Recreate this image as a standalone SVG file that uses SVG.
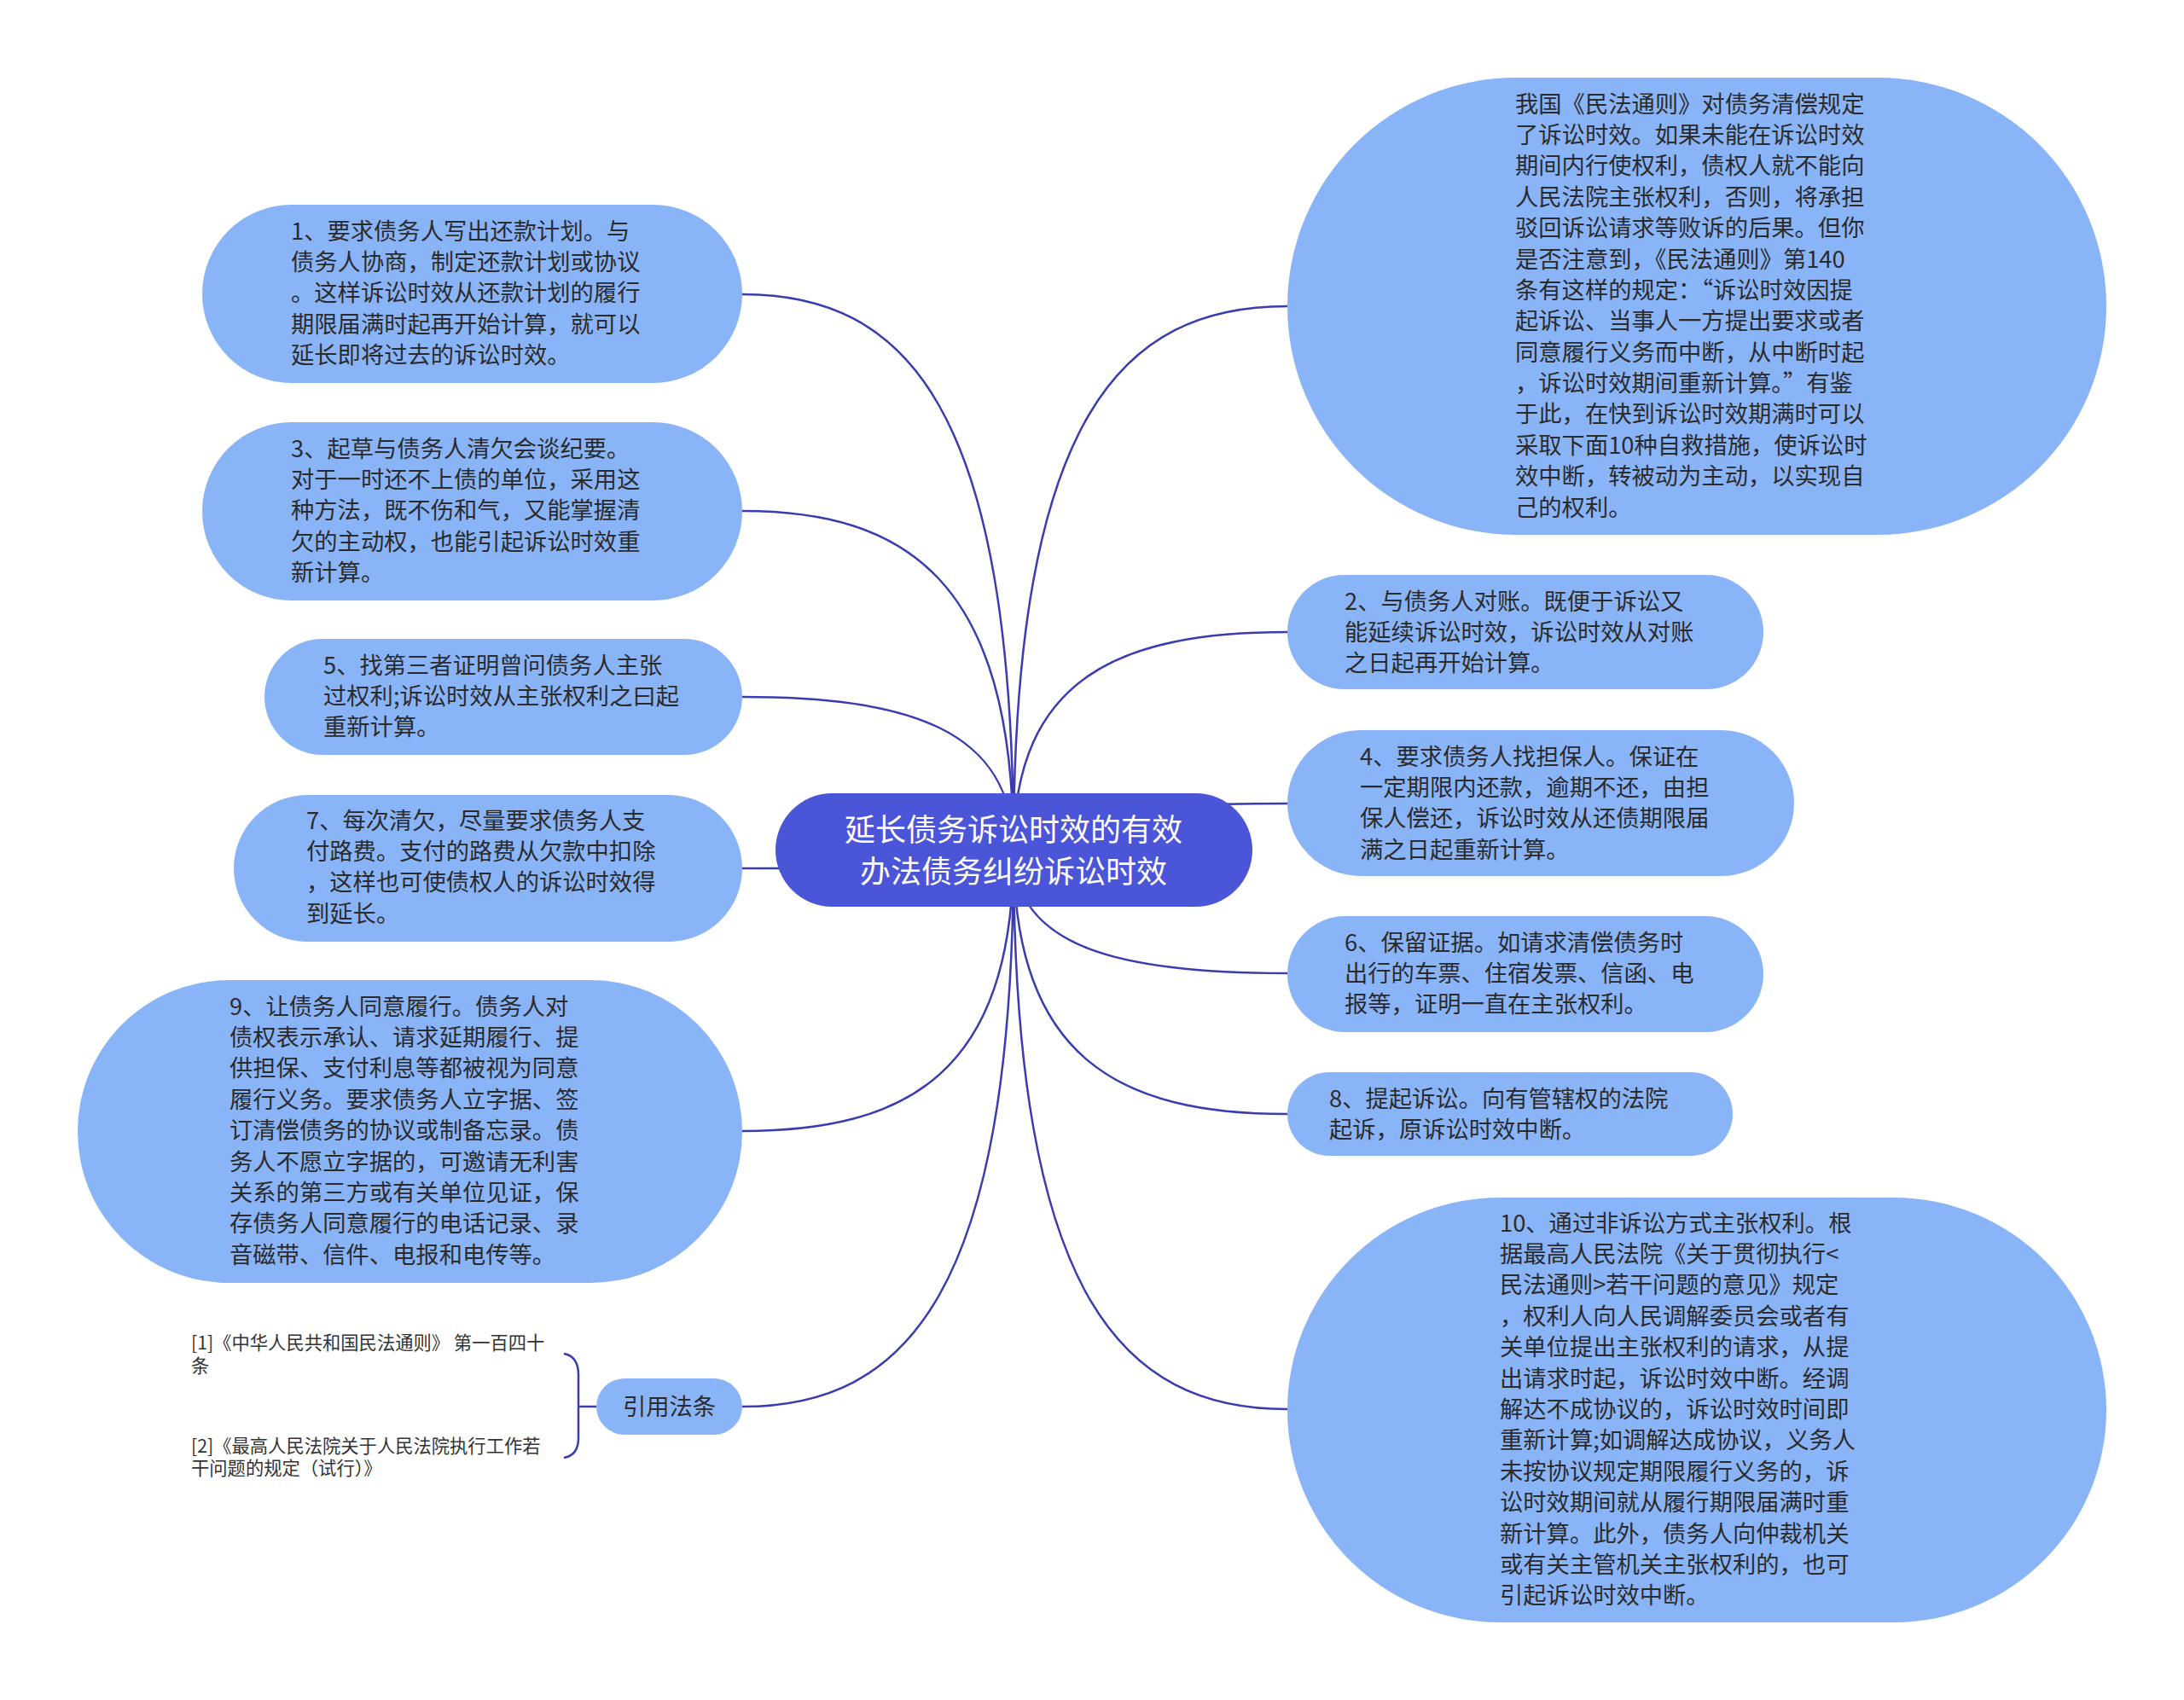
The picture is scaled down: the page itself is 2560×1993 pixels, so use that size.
<svg xmlns="http://www.w3.org/2000/svg" width="2560" height="1993" viewBox="0 0 2560 1993">
<style>
.bg{fill:#ffffff}
.n{fill:#8ab4f8}
.c{fill:#4b55d8}
.t{font-family:"Noto Sans CJK SC","Liberation Sans",sans-serif;font-size:27.3px;fill:#2b2b2b}
.ct{font-family:"Noto Sans CJK SC","Liberation Sans",sans-serif;font-size:36px;fill:#ffffff;text-anchor:middle}
.r{font-family:"Noto Sans CJK SC","Liberation Sans",sans-serif;font-size:21.3px;fill:#333333}
.l{fill:none;stroke:#3a3cb0;stroke-width:2.5}
</style>
<rect class="bg" x="0" y="0" width="2560" height="1993"/>
<g id="connectors">
<path class="l" d="M1188,997 C1188,475 1061,345 870,345"/>
<path class="l" d="M1188,997 C1188,679 1061,599 870,599"/>
<path class="l" d="M1188,997 C1188,853 1061,817 870,817"/>
<path class="l" d="M1188,997 C1188,1014 1061,1018 870,1018"/>
<path class="l" d="M1188,997 C1188,1260 1061,1326 870,1326"/>
<path class="l" d="M1188,997 C1188,1519 1061,1649 870,1649"/>
<path class="l" d="M1188,997 C1188,487 1316,359 1509,359"/>
<path class="l" d="M1188,997 C1188,792 1316,741 1509,741"/>
<path class="l" d="M1188,997 C1188,953 1316,942 1509,942"/>
<path class="l" d="M1188,997 C1188,1112 1316,1141 1509,1141"/>
<path class="l" d="M1188,997 C1188,1244 1316,1306 1509,1306"/>
<path class="l" d="M1188,997 C1188,1521 1316,1652 1509,1652"/>
<path class="l" d="M661,1587 Q678,1590 678,1612 L678,1686 Q678,1706 661,1709 M678,1649 L699,1649"/>
</g>
<g id="center">
<rect class="c" x="909" y="930" width="559" height="133" rx="66.5"/>
<text class="ct" x="1188" y="986">延长债务诉讼时效的有效</text>
<text class="ct" x="1188" y="1035">办法债务纠纷诉讼时效</text>
</g>
<g id="node1">
<rect class="n" x="237" y="240" width="633" height="209" rx="104.5"/>
<text class="t" x="341" y="280.5"><tspan x="341">1、要求债务人写出还款计划。与</tspan><tspan x="341" dy="36.4">债务人协商，制定还款计划或协议</tspan><tspan x="341" dy="36.4">。这样诉讼时效从还款计划的履行</tspan><tspan x="341" dy="36.4">期限届满时起再开始计算，就可以</tspan><tspan x="341" dy="36.4">延长即将过去的诉讼时效。</tspan></text>
</g>
<g id="node3">
<rect class="n" x="237" y="495" width="633" height="209" rx="104.5"/>
<text class="t" x="341" y="535.5"><tspan x="341">3、起草与债务人清欠会谈纪要。</tspan><tspan x="341" dy="36.4">对于一时还不上债的单位，采用这</tspan><tspan x="341" dy="36.4">种方法，既不伤和气，又能掌握清</tspan><tspan x="341" dy="36.4">欠的主动权，也能引起诉讼时效重</tspan><tspan x="341" dy="36.4">新计算。</tspan></text>
</g>
<g id="node5">
<rect class="n" x="310" y="749" width="560" height="136" rx="68"/>
<text class="t" x="379" y="789.5"><tspan x="379">5、找第三者证明曾问债务人主张</tspan><tspan x="379" dy="36.4">过权利;诉讼时效从主张权利之曰起</tspan><tspan x="379" dy="36.4">重新计算。</tspan></text>
</g>
<g id="node7">
<rect class="n" x="274" y="932" width="596" height="172" rx="86"/>
<text class="t" x="359" y="971.5"><tspan x="359">7、每次清欠，尽量要求债务人支</tspan><tspan x="359" dy="36.4">付路费。支付的路费从欠款中扣除</tspan><tspan x="359" dy="36.4">，这样也可使债权人的诉讼时效得</tspan><tspan x="359" dy="36.4">到延长。</tspan></text>
</g>
<g id="node9">
<rect class="n" x="91" y="1149" width="779" height="355" rx="177.5"/>
<text class="t" x="269" y="1189.5"><tspan x="269">9、让债务人同意履行。债务人对</tspan><tspan x="269" dy="36.4">债权表示承认、请求延期履行、提</tspan><tspan x="269" dy="36.4">供担保、支付利息等都被视为同意</tspan><tspan x="269" dy="36.4">履行义务。要求债务人立字据、签</tspan><tspan x="269" dy="36.4">订清偿债务的协议或制备忘录。债</tspan><tspan x="269" dy="36.4">务人不愿立字据的，可邀请无利害</tspan><tspan x="269" dy="36.4">关系的第三方或有关单位见证，保</tspan><tspan x="269" dy="36.4">存债务人同意履行的电话记录、录</tspan><tspan x="269" dy="36.4">音磁带、信件、电报和电传等。</tspan></text>
</g>
<g id="cite">
<rect class="n" x="699" y="1616" width="171" height="66" rx="33"/>
<text class="t" x="784.5" y="1658.5" text-anchor="middle">引用法条</text>
</g>
<g id="ref1">
<text class="r" x="224" y="1582"><tspan x="224">[1]《中华人民共和国民法通则》 第一百四十</tspan><tspan x="224" dy="27">条</tspan></text>
</g>
<g id="ref2">
<text class="r" x="224" y="1703"><tspan x="224">[2]《最高人民法院关于人民法院执行工作若</tspan><tspan x="224" dy="26">干问题的规定（试行）》</tspan></text>
</g>
<g id="nodeTop">
<rect class="n" x="1509" y="91" width="960" height="536" rx="268"/>
<text class="t" x="1776" y="131.5"><tspan x="1776">我国《民法通则》对债务清偿规定</tspan><tspan x="1776" dy="36.4">了诉讼时效。如果未能在诉讼时效</tspan><tspan x="1776" dy="36.4">期间内行使权利，债权人就不能向</tspan><tspan x="1776" dy="36.4">人民法院主张权利，否则，将承担</tspan><tspan x="1776" dy="36.4">驳回诉讼请求等败诉的后果。但你</tspan><tspan x="1776" dy="36.4">是否注意到，《民法通则》第140</tspan><tspan x="1776" dy="36.4">条有这样的规定：“诉讼时效因提</tspan><tspan x="1776" dy="36.4">起诉讼、当事人一方提出要求或者</tspan><tspan x="1776" dy="36.4">同意履行义务而中断，从中断时起</tspan><tspan x="1776" dy="36.4">，诉讼时效期间重新计算。”有鉴</tspan><tspan x="1776" dy="36.4">于此，在快到诉讼时效期满时可以</tspan><tspan x="1776" dy="36.4">采取下面10种自救措施，使诉讼时</tspan><tspan x="1776" dy="36.4">效中断，转被动为主动，以实现自</tspan><tspan x="1776" dy="36.4">己的权利。</tspan></text>
</g>
<g id="node2">
<rect class="n" x="1509" y="674" width="558" height="134" rx="67"/>
<text class="t" x="1576" y="714.5"><tspan x="1576">2、与债务人对账。既便于诉讼又</tspan><tspan x="1576" dy="36.4">能延续诉讼时效，诉讼时效从对账</tspan><tspan x="1576" dy="36.4">之日起再开始计算。</tspan></text>
</g>
<g id="node4">
<rect class="n" x="1509" y="856" width="594" height="171" rx="85.5"/>
<text class="t" x="1594" y="896.5"><tspan x="1594">4、要求债务人找担保人。保证在</tspan><tspan x="1594" dy="36.4">一定期限内还款，逾期不还，由担</tspan><tspan x="1594" dy="36.4">保人偿还，诉讼时效从还债期限届</tspan><tspan x="1594" dy="36.4">满之日起重新计算。</tspan></text>
</g>
<g id="node6">
<rect class="n" x="1509" y="1074" width="558" height="136" rx="68"/>
<text class="t" x="1576" y="1114.5"><tspan x="1576">6、保留证据。如请求清偿债务时</tspan><tspan x="1576" dy="36.4">出行的车票、住宿发票、信函、电</tspan><tspan x="1576" dy="36.4">报等，证明一直在主张权利。</tspan></text>
</g>
<g id="node8">
<rect class="n" x="1509" y="1257" width="522" height="98" rx="49"/>
<text class="t" x="1558" y="1297.5"><tspan x="1558">8、提起诉讼。向有管辖权的法院</tspan><tspan x="1558" dy="36.4">起诉，原诉讼时效中断。</tspan></text>
</g>
<g id="node10">
<rect class="n" x="1509" y="1404" width="960" height="498" rx="249"/>
<text class="t" x="1758" y="1443.5"><tspan x="1758">10、通过非诉讼方式主张权利。根</tspan><tspan x="1758" dy="36.4">据最高人民法院《关于贯彻执行&lt;</tspan><tspan x="1758" dy="36.4">民法通则&gt;若干问题的意见》规定</tspan><tspan x="1758" dy="36.4">，权利人向人民调解委员会或者有</tspan><tspan x="1758" dy="36.4">关单位提出主张权利的请求，从提</tspan><tspan x="1758" dy="36.4">出请求时起，诉讼时效中断。经调</tspan><tspan x="1758" dy="36.4">解达不成协议的，诉讼时效时间即</tspan><tspan x="1758" dy="36.4">重新计算;如调解达成协议，义务人</tspan><tspan x="1758" dy="36.4">未按协议规定期限履行义务的，诉</tspan><tspan x="1758" dy="36.4">讼时效期间就从履行期限届满时重</tspan><tspan x="1758" dy="36.4">新计算。此外，债务人向仲裁机关</tspan><tspan x="1758" dy="36.4">或有关主管机关主张权利的，也可</tspan><tspan x="1758" dy="36.4">引起诉讼时效中断。</tspan></text>
</g>
</svg>
